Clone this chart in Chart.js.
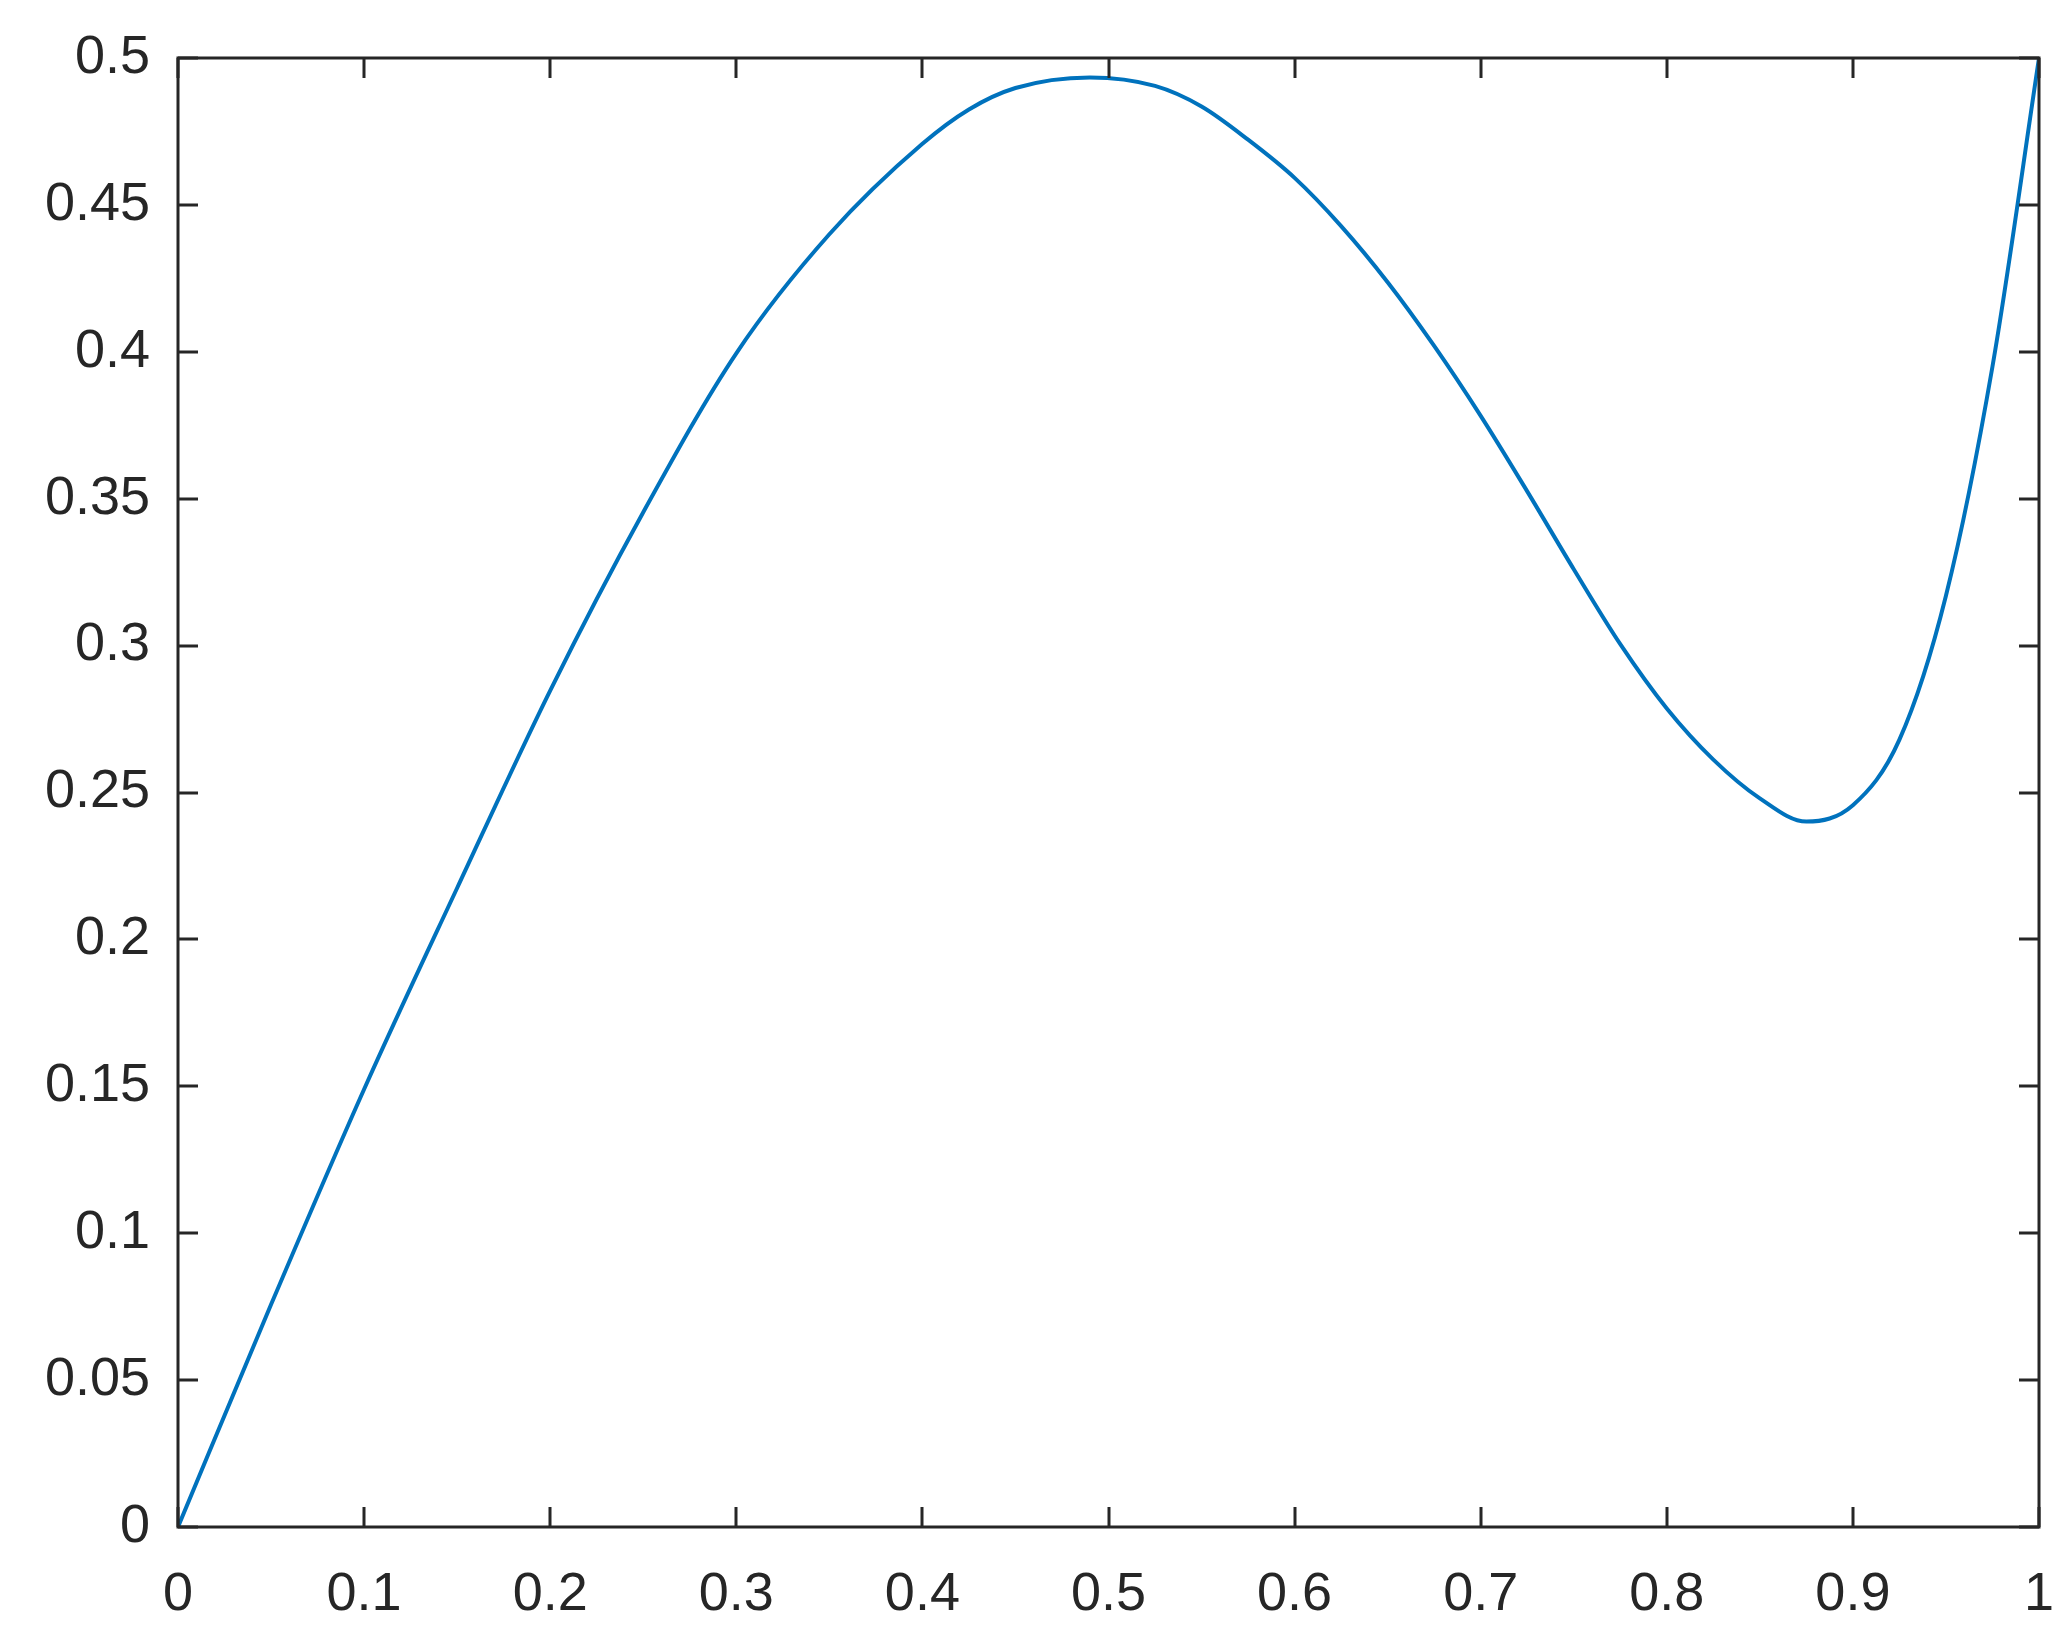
<!DOCTYPE html>
<html>
<head>
<meta charset="utf-8">
<script src="https://cdn.jsdelivr.net/npm/chart.js@4/dist/chart.umd.min.js"></script>
<style>
  html, body { margin: 0; padding: 0; background: #fff; }
  #wrap { width: 2070px; height: 1637px; }
</style>
</head>
<body>
<div id="wrap"><canvas id="curveChart" width="2070" height="1637"></canvas></div>
<script>
// values
const xVals = [0, 0.05, 0.1, 0.15, 0.2, 0.25, 0.3, 0.35, 0.4, 0.425, 0.45, 0.49, 0.525, 0.55, 0.575, 0.6,
  0.625, 0.65, 0.675, 0.7, 0.725, 0.75, 0.775, 0.8, 0.825, 0.85, 0.875, 0.9, 0.925, 0.95, 0.975, 1];
const yVals = [0, 0.0757, 0.149, 0.2175, 0.2847, 0.3454, 0.3995, 0.44, 0.4708, 0.4825, 0.4898, 0.4934,
  0.4905, 0.4835, 0.4722, 0.4592, 0.4428, 0.4237, 0.402, 0.3782, 0.3525, 0.326, 0.3005, 0.2786,
  0.2612, 0.248, 0.2401, 0.2457, 0.268, 0.317, 0.395, 0.5];
const xTicks = ["0", "0.1", "0.2", "0.3", "0.4", "0.5", "0.6", "0.7", "0.8", "0.9", "1"];
const yTicks = ["0", "0.05", "0.1", "0.15", "0.2", "0.25", "0.3", "0.35", "0.4", "0.45", "0.5"];

const axisColor = "#262626";
const tickLen = 20;

// MATLAB style box with inward ticks on all four sides
const boxPlugin = {
  id: "boxTicks",
  afterDraw(chart) {
    const { ctx, chartArea: a, scales } = chart;
    ctx.save();
    ctx.strokeStyle = axisColor;
    ctx.lineWidth = 3;
    ctx.strokeRect(a.left, a.top, a.right - a.left, a.bottom - a.top);
    ctx.beginPath();
    scales.x.ticks.forEach(t => {
      const px = Math.round(scales.x.getPixelForValue(t.value));
      ctx.moveTo(px, a.bottom); ctx.lineTo(px, a.bottom - tickLen);
      ctx.moveTo(px, a.top); ctx.lineTo(px, a.top + tickLen);
    });
    scales.y.ticks.forEach(t => {
      const py = Math.round(scales.y.getPixelForValue(t.value));
      ctx.moveTo(a.left, py); ctx.lineTo(a.left + tickLen, py);
      ctx.moveTo(a.right, py); ctx.lineTo(a.right - tickLen, py);
    });
    ctx.stroke();
    ctx.restore();
  }
};

const points = xVals.map((x, i) => ({ x: x, y: yVals[i] }));

new Chart(document.getElementById("curveChart"), {
  type: "line",
  data: {
    datasets: [{
      data: points,
      borderColor: "#0072BD",
      borderWidth: 4,
      pointRadius: 0,
      cubicInterpolationMode: "monotone",
      fill: false
    }]
  },
  options: {
    responsive: false,
    animation: false,
    layout: { padding: { top: 58, right: 31, left: 0, bottom: 0 } },
    plugins: { legend: { display: false }, tooltip: { enabled: false } },
    scales: {
      x: {
        type: "linear",
        min: 0, max: 1,
        afterBuildTicks: s => { s.ticks = xTicks.map(v => ({ value: parseFloat(v) })); },
        afterFit: s => { s.height = 110; s.paddingLeft = 0; s.paddingRight = 0; },
        grid: { display: false, drawTicks: false },
        border: { display: false },
        ticks: {
          color: axisColor,
          font: { family: "'Liberation Sans', Arial, sans-serif", size: 54 },
          padding: 36,
          maxRotation: 0,
          callback: (v, i) => xTicks[i]
        }
      },
      y: {
        type: "linear",
        min: 0, max: 0.5,
        afterBuildTicks: s => { s.ticks = yTicks.map(v => ({ value: parseFloat(v) })); },
        afterFit: s => { s.width = 178; s.paddingTop = 0; s.paddingBottom = 0; },
        grid: { display: false, drawTicks: false },
        border: { display: false },
        ticks: {
          color: axisColor,
          font: { family: "'Liberation Sans', Arial, sans-serif", size: 54 },
          padding: 28,
          callback: (v, i) => yTicks[i]
        }
      }
    }
  },
  plugins: [boxPlugin]
});
</script>
</body>
</html>
